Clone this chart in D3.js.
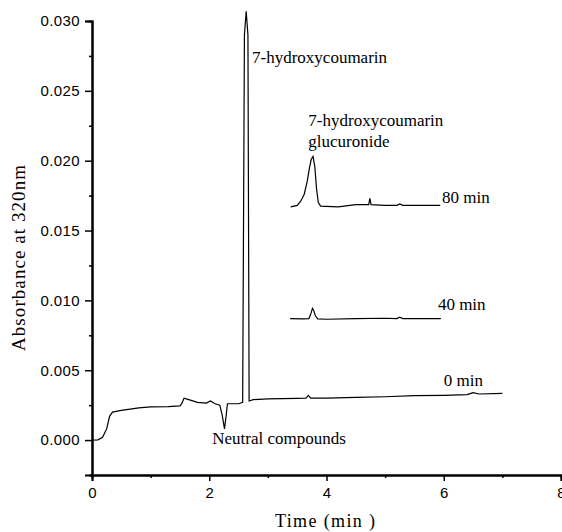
<!DOCTYPE html>
<html>
<head>
<meta charset="utf-8">
<script src="https://cdn.jsdelivr.net/npm/d3@7"></script>
<style>
  body { margin: 0; background: #fff; }
  svg { display: block; }
</style>
</head>
<body>
<div id="chart"></div>
<script>
// chromatogram traces, time (min) / absorbance
const t0 = [0, 0.1, 0.18, 0.25, 0.3, 0.35, 0.5, 0.8, 1.0, 1.3, 1.5, 1.53, 1.57, 1.65, 1.8, 1.95, 2.02, 2.1, 2.18, 2.22, 2.26, 2.29, 2.31, 2.5, 2.57, 2.6, 2.63, 2.66, 2.68, 2.75, 3.0, 3.5, 3.65, 3.69, 3.73, 4.0, 4.5, 5.0, 5.5, 6.0, 6.4, 6.5, 6.6, 7.0]
const a0 = [0, 0.00002, 0.0002, 0.0008, 0.0017, 0.002, 0.00213, 0.0023, 0.00238, 0.0024, 0.00245, 0.0026, 0.003, 0.0029, 0.0027, 0.00265, 0.0028, 0.0026, 0.0025, 0.0018, 0.0008, 0.0018, 0.0026, 0.0026, 0.0027, 0.029, 0.0307, 0.029, 0.0028, 0.0029, 0.00295, 0.00298, 0.003, 0.0032, 0.003, 0.003, 0.00305, 0.0031, 0.00318, 0.0032, 0.00325, 0.0034, 0.0033, 0.00334]

const t40 = [3.38, 3.6, 3.7, 3.73, 3.76, 3.78, 3.81, 3.85, 4.0, 4.5, 5.0, 5.2, 5.25, 5.3, 5.95]
const a40 = [0.0087, 0.00868, 0.0087, 0.0090, 0.00943, 0.0093, 0.0089, 0.00868, 0.00865, 0.0087, 0.00872, 0.0087, 0.0088, 0.0087, 0.0087]

const t80 = [3.39, 3.5, 3.56, 3.62, 3.67, 3.71, 3.74, 3.77, 3.8, 3.83, 3.86, 3.9, 4.2, 4.5, 4.72, 4.74, 4.76, 5.0, 5.2, 5.25, 5.3, 5.94]
const a80 = [0.0167, 0.0168, 0.0171, 0.0176, 0.0185, 0.0195, 0.0201, 0.0203, 0.0196, 0.0180, 0.0170, 0.01675, 0.0167, 0.01685, 0.01685, 0.0173, 0.01685, 0.0168, 0.0168, 0.0169, 0.0168, 0.0168]

const xTicks = [0, 2, 4, 6, 8]
const xMinor = [1, 3, 5, 7]
const yTicks = [0, 0.005, 0.01, 0.015, 0.02, 0.025, 0.03]
const yMinor = [0.0025, 0.0075, 0.0125, 0.0175, 0.0225, 0.0275]

const width = 562, height = 532

const svg = d3.select('#chart').append('svg')
              .attr('width', width)
              .attr('height', height)

const x = d3.scaleLinear().domain([0, 8]).range([92, 561])
const y = d3.scaleLinear().domain([-0.0025, 0.03]).range([475, 21])

const sans = 'Liberation Sans, Arial, sans-serif'
const serif = 'Liberation Serif, Times New Roman, serif'

// axes
svg.append('g')
    .attr('transform', `translate(0,${y(-0.0025)})`)
    .call(d3.axisBottom(x).tickValues(xTicks).tickFormat(d3.format('d')).tickSize(6).tickPadding(6))
svg.append('g')
    .attr('transform', `translate(0,${y(-0.0025)})`)
    .call(d3.axisBottom(x).tickValues(xMinor).tickFormat('').tickSize(3))

svg.append('g')
    .attr('transform', `translate(${x(0)},0)`)
    .call(d3.axisLeft(y).tickValues(yTicks).tickFormat(d3.format('.3f')).tickSize(7).tickPadding(5))
svg.append('g')
    .attr('transform', `translate(${x(0)},0)`)
    .call(d3.axisLeft(y).tickValues(yMinor).tickFormat('').tickSize(3))

svg.selectAll('.domain').attr('stroke', '#000').attr('stroke-width', 2)
svg.selectAll('.tick line').attr('stroke', '#000').attr('stroke-width', 1.5)
svg.selectAll('.tick text')
   .attr('fill', '#000')
   .style('font-family', sans)
   .style('font-size', '15px')
   .style('letter-spacing', '0.4px')

// traces
const line = d3.line()
               .x(d => x(d[0]))
               .y(d => y(d[1]))

const traces = [
  { t: t0, a: a0 },
  { t: t40, a: a40 },
  { t: t80, a: a80 }
]
svg.append('g').selectAll('path')
   .data(traces)
   .join('path')
   .attr('d', d => line(d.t.map((v, i) => [v, d.a[i]])))
   .attr('fill', 'none')
   .attr('stroke', '#000')
   .attr('stroke-width', 1.2)

// annotations
const notes = [
  { text: '7-hydroxycoumarin', tx: 2.73, ty: 0.0270 },
  { text: '7-hydroxycoumarin', tx: 3.69, ty: 0.0225 },
  { text: 'glucuronide', tx: 3.69, ty: 0.0210 },
  { text: '80 min', tx: 5.97, ty: 0.0170 },
  { text: '40 min', tx: 5.90, ty: 0.0093 },
  { text: '0 min', tx: 6.0, ty: 0.0039 },
  { text: 'Neutral compounds', tx: 2.05, ty: -0.0003 }
]
svg.append('g').selectAll('text')
   .data(notes)
   .join('text')
   .attr('x', d => x(d.tx))
   .attr('y', d => y(d.ty))
   .text(d => d.text)
   .style('font-family', serif)
   .style('font-size', '17px')

svg.append('text')
   .attr('x', 325)
   .attr('y', 527)
   .attr('text-anchor', 'middle')
   .attr('textLength', 100)
   .style('font-family', serif)
   .style('font-size', '18px')
   .text('Time (min  )')

svg.append('text')
   .attr('transform', `translate(25,258) rotate(-90)`)
   .attr('text-anchor', 'middle')
   .attr('textLength', 186)
   .style('font-family', serif)
   .style('font-size', '19px')
   .text('Absorbance at 320nm')
</script>
</body>
</html>
